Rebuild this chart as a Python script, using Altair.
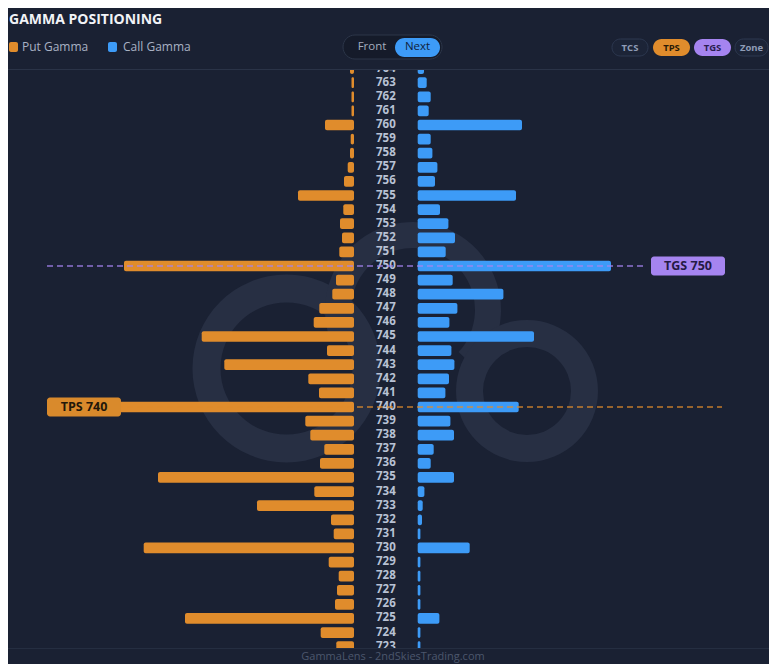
import altair as alt
import pandas as pd

# ---------------- data ----------------
strikes = list(range(764, 722, -1))
put_gamma = [0.4, 0.25, 0.25, 0.25, 2.9, 0.33, 0.4, 0.63, 1.0, 5.6,
             1.07, 1.4, 1.2, 1.47, 23.0, 1.8, 2.17, 3.47, 4.03, 15.23,
             2.7, 12.97, 4.57, 3.5, 25.0, 4.87, 4.37, 2.97, 3.4, 19.6,
             3.97, 9.7, 2.3, 2.03, 21.03, 2.53, 1.53, 1.7, 1.9, 16.9,
             3.33, 1.77]
call_gamma = [0.63, 0.9, 1.3, 1.1, 10.43, 1.3, 1.47, 1.97, 1.73, 9.83,
              2.23, 3.07, 3.73, 2.8, 19.33, 3.5, 8.57, 3.97, 3.17, 11.63,
              3.37, 3.67, 3.13, 2.77, 10.1, 3.27, 3.63, 1.6, 1.3, 3.63,
              0.67, 0.5, 0.43, 0.27, 5.2, 0.27, 0.27, 0.27, 0.27, 2.17,
              0.27, 0.27]
tps_strike = 740
tgs_strike = 750

df = pd.DataFrame({"strike": strikes, "put": put_gamma, "call": call_gamma})
one = pd.DataFrame({"k": [0]})

# ---------------- style ----------------
BG = "#1a2133"
ORANGE = "#e08c2c"
BLUE = "#3d9bf7"
PURPLE = "#a584f0"
LABEL = "#b8c1d4"
WM = "#272f43"
FONT = "Open Sans"
GAP = 3.185
HALF = 0.38

xs = alt.Scale(domain=[-37.785, 38.315], nice=False, zero=False)
ys = alt.Scale(domain=[721.77, 768.30], nice=False, zero=False)

W, H = 761, 656


def rect(x0, x1, y0, y1, **kw):
    return alt.Chart(one).mark_rect(**kw).encode(
        x=alt.value(x0), x2=alt.value(x1), y=alt.value(y0), y2=alt.value(y1))


def text(s, x, y, **kw):
    params = dict(font=FONT, baseline="middle")
    params.update(kw)
    return alt.Chart(one).mark_text(text=s, **params).encode(
        x=alt.value(x), y=alt.value(y))


def ring(cx, cy, r_in, r_out, t0, t1):
    return alt.Chart(one).mark_arc(radius=r_out, radius2=r_in, theta=t0,
                                   theta2=t1, color=WM).encode(
        x=alt.value(cx), y=alt.value(cy))


# watermark logo
wm = [
    ring(278.5, 360.5, 66, 94, 0, 6.2832),
    ring(405, 302, 62, 88, 4.4, 8.6),
    ring(519, 383, 44, 71, 0, 6.2832),
]

base = alt.Chart(df)

put_bars = base.transform_calculate(
    x0=f"-{GAP} - datum.put", x1=f"-{GAP}",
    y0=f"datum.strike + {HALF}", y1=f"datum.strike - {HALF}"
).mark_rect(color=ORANGE, cornerRadius=2).encode(
    x=alt.X("x0:Q", scale=xs, axis=None), x2="x1:Q",
    y=alt.Y("y0:Q", scale=ys, axis=None), y2="y1:Q",
    tooltip=["strike:Q", "put:Q"])

call_bars = base.transform_calculate(
    x0=f"{GAP}", x1=f"{GAP} + datum.call",
    y0=f"datum.strike + {HALF}", y1=f"datum.strike - {HALF}"
).mark_rect(color=BLUE, cornerRadius=2).encode(
    x=alt.X("x0:Q", scale=xs, axis=None), x2="x1:Q",
    y=alt.Y("y0:Q", scale=ys, axis=None), y2="y1:Q",
    tooltip=["strike:Q", "call:Q"])

labels = base.mark_text(font=FONT, fontSize=11.5, fontWeight="bold", color=LABEL,
                        baseline="middle").encode(
    x=alt.datum(0, scale=xs),
    y=alt.Y("strike:Q", scale=ys, axis=None),
    text="strike:N")

lvl_tgs = pd.DataFrame({"strike": [tgs_strike], "lab": [f"TGS {tgs_strike}"]})
lvl_tps = pd.DataFrame({"strike": [tps_strike], "lab": [f"TPS {tps_strike}"]})

tgs_line = alt.Chart(lvl_tgs).mark_rule(color=PURPLE, strokeDash=[6, 4], strokeWidth=1.6,
                                        opacity=0.85).encode(
    y=alt.Y("strike:Q", scale=ys, axis=None), x=alt.value(39), x2=alt.value(638))
tps_line = alt.Chart(lvl_tps).mark_rule(color=ORANGE, strokeDash=[6, 4], strokeWidth=1.6,
                                        opacity=0.85).encode(
    y=alt.Y("strike:Q", scale=ys, axis=None), x=alt.value(39), x2=alt.value(714))

BOXH = 0.67
tgs_box = alt.Chart(lvl_tgs).transform_calculate(
    y0=f"datum.strike + {BOXH}", y1=f"datum.strike - {BOXH}"
).mark_rect(color=PURPLE, cornerRadius=3).encode(
    y=alt.Y("y0:Q", scale=ys, axis=None), y2="y1:Q",
    x=alt.value(643), x2=alt.value(717))
tgs_txt = alt.Chart(lvl_tgs).mark_text(font=FONT, fontSize=12.5, fontWeight="bold",
                                       color="#241a45", baseline="middle").encode(
    y=alt.Y("strike:Q", scale=ys, axis=None), x=alt.value(680), text="lab:N")

tps_box = alt.Chart(lvl_tps).transform_calculate(
    y0=f"datum.strike + {BOXH}", y1=f"datum.strike - {BOXH}"
).mark_rect(color="#d98a2c", cornerRadius=3).encode(
    y=alt.Y("y0:Q", scale=ys, axis=None), y2="y1:Q",
    x=alt.value(39), x2=alt.value(113))
tps_txt = alt.Chart(lvl_tps).mark_text(font=FONT, fontSize=12.5, fontWeight="bold",
                                       color="#22180a", baseline="middle").encode(
    y=alt.Y("strike:Q", scale=ys, axis=None), x=alt.value(76), text="lab:N")

# header
header = [
    rect(0, W, 0, 61, color=BG),
    rect(0, W, 61, 62, color="#2a3347"),
    text("GAMMA POSITIONING", 1, 12, fontSize=14, fontWeight="bold",
         color="#f1f3f7", align="left"),
    rect(1, 10, 34, 44, color=ORANGE, cornerRadius=2),
    text("Put Gamma", 14, 39, fontSize=12, color="#a9b2c4", align="left"),
    rect(100, 109, 34, 44, color=BLUE, cornerRadius=2),
    text("Call Gamma", 115, 39, fontSize=12, color="#a9b2c4", align="left"),
    rect(335, 434, 27, 51, fill="#151b2a", stroke="#2c3649", strokeWidth=1,
         cornerRadius=12),
    rect(387, 432, 30, 49, color=BLUE, cornerRadius=9.5),
    text("Front", 364, 39, fontSize=11.5, color="#a3acbd", align="center"),
    text("Next", 409.5, 39, fontSize=11.5, color="#10223c", align="center"),
    rect(604, 640, 31, 48, fill="#1c2437", stroke="#2d3850", strokeWidth=1,
         cornerRadius=8.5),
    text("TCS", 622, 39.5, fontSize=9.5, fontWeight="bold", color="#8f9cb6",
         align="center"),
    rect(645, 682, 31, 48, color=ORANGE, cornerRadius=8.5),
    text("TPS", 663.5, 39.5, fontSize=9.5, fontWeight="bold", color="#2b1b06",
         align="center"),
    rect(686, 723, 31, 48, color=PURPLE, cornerRadius=8.5),
    text("TGS", 704.5, 39.5, fontSize=9.5, fontWeight="bold", color="#2a1d50",
         align="center"),
    rect(727, 760, 31, 48, fill="#1c2437", stroke="#2d3850", strokeWidth=1,
         cornerRadius=8.5),
    text("Zone", 743.5, 39.5, fontSize=9.5, fontWeight="bold", color="#8f9cb6",
         align="center"),
]

footer = [
    rect(0, W, 640, H, color=BG),
    rect(0, W, 640, 641, color="#252e41"),
    text("GammaLens - 2ndSkiesTrading.com", 385, 649, fontSize=11,
         color="#4c576d", align="center"),
]

chart = alt.layer(
    *wm, put_bars, call_bars, labels, tgs_line, tps_line,
    tgs_box, tgs_txt, tps_box, tps_txt, *header, *footer
).properties(
    width=W, height=H, autosize=alt.AutoSizeParams(type="none"), padding=0,
    background=BG
).configure_view(strokeWidth=0)

chart.save("out.html", embed_options={"renderer": "svg", "actions": False})
